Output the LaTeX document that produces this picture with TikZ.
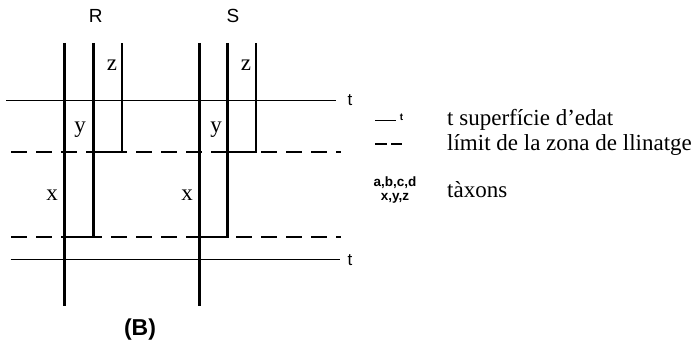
\documentclass[tikz,border=0pt]{standalone}
\usepackage{fontspec}
\setmainfont{Liberation Serif}
\setsansfont{Liberation Sans}
\begin{document}
\begin{tikzpicture}[x=1pt,y=-1pt,
  lineage/.style={line width=2.8pt},
  tline/.style={line width=1.1pt},
  zline/.style={line width=2.4pt, dash pattern=on 16pt off 9pt},
  sans/.style={font=\sffamily\fontsize{19}{21}\selectfont, inner sep=0pt},
  taxon/.style={font=\fontsize{23}{25}\selectfont, inner sep=0pt},
  legtext/.style={font=\fontsize{23}{25}\selectfont, inner sep=0pt, anchor=base west},
  tlab/.style={font=\sffamily\fontsize{17}{19}\selectfont, inner sep=0pt}]
\useasboundingbox (0,0) rectangle (698,345);
% time surfaces
\coordinate (t1a) at (6,100.7);   \coordinate (t1b) at (336,100.7);
\coordinate (t2a) at (10.7,259.5); \coordinate (t2b) at (340,259.5);
\draw[tline] (t1a) -- (t1b);
\draw[tline] (t2a) -- (t2b);
% lineage zone limits
\coordinate (d1a) at (11,152); \coordinate (d1b) at (341,152);
\coordinate (d2a) at (11,237); \coordinate (d2b) at (341,237);
\draw[zline] (d1a) -- (d1b);
\draw[zline] (d2a) -- (d2b);
% R lineages
\coordinate (Rxt) at (64.5,43);  \coordinate (Rxb) at (64.5,306);
\coordinate (Ryt) at (93.3,43);  \coordinate (Ryb) at (93.3,237);
\coordinate (Rxj) at (64.5,237);
\coordinate (Ryj) at (93.3,152); \coordinate (Rzb) at (122,152); \coordinate (Rzt) at (122,43);
\draw[lineage] (Rxt) -- (Rxb);
\draw[lineage] (Ryt) -- (Ryb) -- (Rxj);
\draw[lineage] (Ryj) -- (Rzb) -- (Rzt);
% S lineages
\coordinate (Sxt) at (199.3,43);  \coordinate (Sxb) at (199.3,306);
\coordinate (Syt) at (227.7,43);  \coordinate (Syb) at (227.7,237);
\coordinate (Sxj) at (199.3,237);
\coordinate (Syj) at (227.7,152); \coordinate (Szb) at (256,152); \coordinate (Szt) at (256,43);
\draw[lineage] (Sxt) -- (Sxb);
\draw[lineage] (Syt) -- (Syb) -- (Sxj);
\draw[lineage] (Syj) -- (Szb) -- (Szt);
% labels
\node[sans] (R) at (95.7,16) {R};
\node[sans] (S) at (233,16) {S};
\node[taxon] (Rz) at (112,65) {z};
\node[taxon] (Ry) at (80,130) {y};
\node[taxon] (Rx) at (52,195) {x};
\node[taxon] (Sz) at (246,65) {z};
\node[taxon] (Sy) at (216,130) {y};
\node[taxon] (Sx) at (187,195) {x};
\node[tlab] (tt) at (350,100) {t};
\node[tlab] (tb) at (350,260) {t};
\node[font=\sffamily\bfseries\fontsize{23}{25}\selectfont, inner sep=0pt] (B) at (140,330) {(B)};
% legend
\coordinate (l1a) at (375,120.7); \coordinate (l1b) at (396,120.7);
\draw[line width=1.2pt] (l1a) -- (l1b);
\node[font=\sffamily\bfseries\fontsize{10}{11}\selectfont, inner sep=0pt] (lt) at (401.5,117) {t};
\coordinate (l2a) at (375,144); \coordinate (l2b) at (387,144);
\coordinate (l2c) at (391,144); \coordinate (l2d) at (402,144);
\draw[line width=1.5pt] (l2a) -- (l2b);
\draw[line width=1.5pt] (l2c) -- (l2d);
\node[font=\sffamily\bfseries\fontsize{13.5}{15}\selectfont, inner sep=0pt] (abcd) at (395,183) {a,b,c,d};
\node[font=\sffamily\bfseries\fontsize{13.5}{15}\selectfont, inner sep=0pt] (xyz) at (395,198) {x,y,z};
\node[legtext] (L1) at (447,125) {t superfície d’edat};
\node[legtext] (L2) at (447,150) {límit de la zona de llinatge};
\node[legtext] (L3) at (447,197) {tàxons};
\end{tikzpicture}
\end{document}
